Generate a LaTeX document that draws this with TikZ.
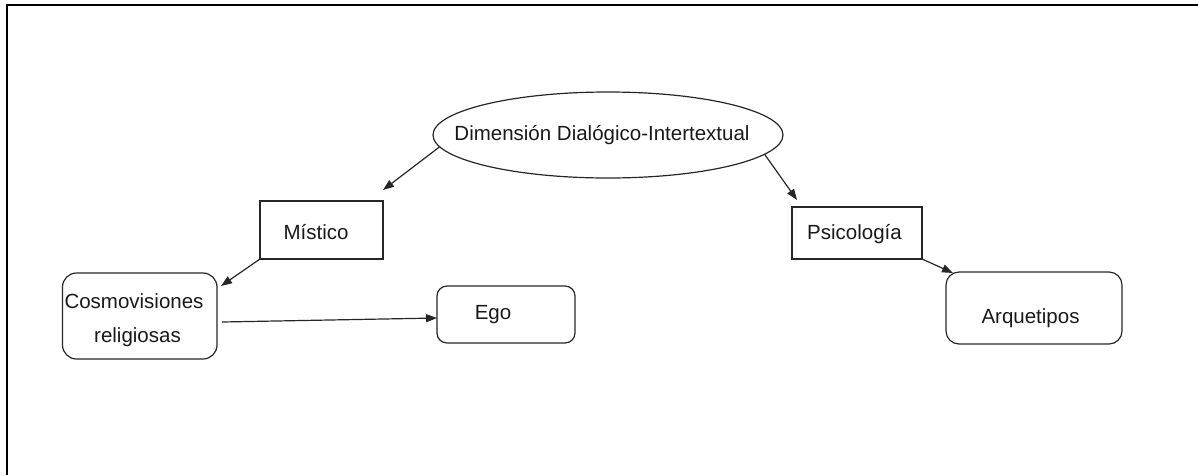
\documentclass[tikz,border=0pt]{standalone}
\usepackage{fontspec}
\setmainfont{Liberation Sans}
\usetikzlibrary{shapes.geometric,arrows.meta}
\begin{document}
\begin{tikzpicture}[x=1pt,y=-1pt,
  frame/.style={line width=2.2pt},
  shapebox/.style={draw=black!85,line width=1.2pt,inner sep=0pt,outer sep=0pt},
  sqbox/.style={shapebox,rectangle},
  rbox/.style={shapebox,rectangle,rounded corners=#1},
  oval/.style={shapebox,ellipse},
  lbl/.style={anchor=base,inner sep=0pt,font=\fontsize{20.5}{24}\selectfont,text=black!90},
  link/.style={draw=black!85,line width=1.2pt,-{Triangle[length=11pt,width=8pt]}}]
  \useasboundingbox (0,0) rectangle (1198,475);

  % open frame: top and left edges only
  \coordinate (fr-tl) at (7,5);
  \coordinate (fr-tr) at (1198,5);
  \coordinate (fr-bl) at (7,475);
  \draw[frame] (fr-tr) -- (fr-tl) -- (fr-bl);

  % shapes
  \node[oval,minimum width=350pt,minimum height=86pt] (dim) at (608,135) {};
  \node[sqbox,minimum width=123pt,minimum height=58pt] (mis) at (321.5,230) {};
  \node[sqbox,minimum width=130pt,minimum height=52pt] (psi) at (857,233) {};
  \node[rbox=14pt,minimum width=154.5pt,minimum height=86pt] (cos) at (139.75,316) {};
  \node[rbox=10pt,minimum width=138pt,minimum height=57pt] (ego) at (506,314.5) {};
  \node[rbox=13pt,minimum width=176pt,minimum height=72pt] (arq) at (1034,308) {};

  % labels
  \node[lbl] (dim-t) at (602,140) {Dimensión Dialógico-Intertextual};
  \node[lbl] (mis-t) at (316,239) {Místico};
  \node[lbl] (psi-t) at (854.5,239) {Psicología};
  \node[lbl] (cos-t1) at (134,308) {Cosmovisiones};
  \node[lbl] (cos-t2) at (137.5,342) {religiosas};
  \node[lbl] (ego-t) at (493,319) {Ego};
  \node[lbl] (arq-t) at (1030.5,323) {Arquetipos};

  % connector ends
  \coordinate (to-mis) at (383,190);
  \coordinate (to-psi) at (797,200);
  \coordinate (to-cos) at (221,286);
  \coordinate (from-cos) at (222,322);
  \coordinate (to-ego) at (437,318);
  \coordinate (to-arq) at (953,273);

  % connectors
  \draw[link] (dim.184) -- (to-mis);
  \draw[link] (dim.-7.4) -- (to-psi);
  \draw[link] (mis.south west) -- (to-cos);
  \draw[link] (from-cos) -- (to-ego);
  \draw[link] (psi.south east) -- (to-arq);
\end{tikzpicture}
\end{document}
